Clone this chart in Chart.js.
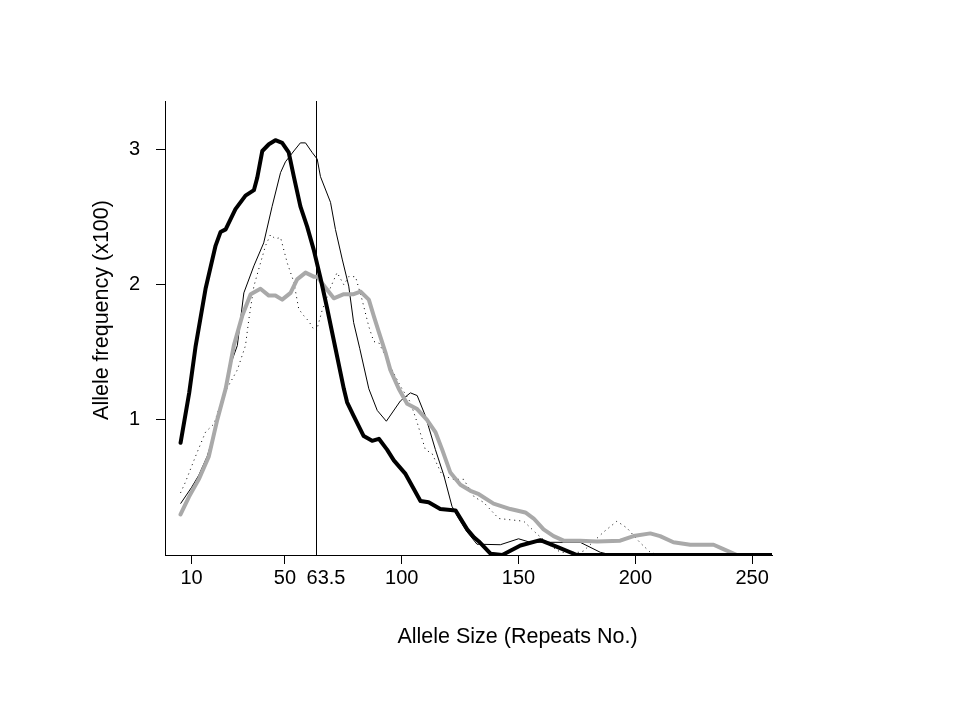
<!DOCTYPE html>
<html>
<head>
<meta charset="utf-8">
<script src="https://cdn.jsdelivr.net/npm/chart.js@4.4.1/dist/chart.umd.min.js"></script>
<style>
  html, body { margin: 0; padding: 0; background: #ffffff; }
  #wrap { width: 959px; height: 719px; position: relative; }
</style>
</head>
<body>
<div id="wrap"><canvas id="c" width="959" height="719"></canvas></div>
<script>
// ---- Data ----
const xTickValues = [10, 50, 63.5, 100, 150, 200, 250];
const yTickValues = [1, 2, 3];
const markerX = 63.5;

const xTitle = "Allele Size (Repeats No.)";
const yTitle = "Allele frequency (x100)";

// thick black series
const boldX = [5.3, 9, 11.7, 16, 20.3, 22.4, 24.6, 28.8, 33.1, 36.7, 38.1, 40.3, 43.1, 45.9, 48.8, 51.6, 53.8, 56.6, 59.5, 62.3, 65.2, 68, 71.6, 75.2, 76.6, 79.4, 83.7, 87.3, 90.2, 93.7, 96.6, 101.6, 105.1, 108, 111.5, 116.5, 123, 128, 131, 133, 138, 143, 150.8, 159.3, 166.5, 175, 258.5];
const boldY = [0.83, 1.2, 1.54, 1.97, 2.29, 2.39, 2.41, 2.56, 2.66, 2.70, 2.79, 2.99, 3.04, 3.07, 3.05, 2.98, 2.80, 2.58, 2.43, 2.26, 2.05, 1.83, 1.53, 1.23, 1.13, 1.03, 0.88, 0.845, 0.86, 0.78, 0.70, 0.60, 0.49, 0.40, 0.39, 0.34, 0.33, 0.19, 0.13, 0.10, 0.01, 0, 0.07, 0.11, 0.06, 0, 0];

// thin solid black series
const thinX = [5.3, 10, 13.1, 16.7, 20.3, 23.8, 26.5, 29.6, 32.4, 36.7, 40.9, 44.5, 48.1, 50.2, 53.8, 56.6, 58.8, 61.6, 63.8, 65.2, 69.5, 71.6, 74.5, 77.3, 79.4, 82, 85.9, 89.5, 93.4, 99.4, 103.7, 106.6, 110.1, 114.4, 118, 121.5, 124.4, 128, 132.2, 142.2, 150, 155, 176.4, 185, 190, 258.5];
const thinY = [0.38, 0.50, 0.59, 0.73, 0.93, 1.18, 1.40, 1.55, 1.94, 2.14, 2.31, 2.58, 2.83, 2.91, 2.99, 3.05, 3.05, 2.98, 2.93, 2.80, 2.61, 2.41, 2.19, 1.99, 1.72, 1.53, 1.23, 1.07, 0.99, 1.14, 1.20, 1.18, 1.03, 0.78, 0.59, 0.36, 0.27, 0.17, 0.08, 0.076, 0.12, 0.094, 0.094, 0.02, 0, 0];

// dotted black series
const dotX = [5.3, 7.4, 11.7, 16, 19.6, 23.8, 26.7, 29.6, 33.1, 34.5, 36.7, 39.5, 41.7, 43.8, 45.9, 48.1, 51, 53.8, 55.9, 58.1, 60.2, 62.3, 63.5, 65.9, 69.5, 72.3, 75.2, 77.3, 80.2, 83, 85.9, 88, 90.2, 95.9, 99.4, 103.7, 106.6, 110.1, 113, 117.3, 122.2, 126.5, 131, 135, 141.5, 152.2, 157.9, 163.6, 168, 176.4, 177.8, 186.4, 192.1, 196.4, 202.1, 206.4, 210, 258.5];
const dotY = [0.46, 0.54, 0.73, 0.91, 0.97, 1.19, 1.28, 1.37, 1.55, 1.74, 1.99, 2.16, 2.29, 2.37, 2.34, 2.35, 2.16, 2.02, 1.82, 1.77, 1.73, 1.67, 1.66, 1.81, 1.98, 2.09, 2.00, 2.06, 2.06, 1.89, 1.69, 1.58, 1.57, 1.37, 1.25, 1.13, 0.98, 0.78, 0.75, 0.59, 0.56, 0.56, 0.43, 0.39, 0.27, 0.25, 0.155, 0.07, 0.02, 0.02, 0.03, 0.17, 0.25, 0.20, 0.09, 0.02, 0, 0];

// thick grey series
const greyX = [5.3, 8.9, 13.1, 17.4, 21, 24.6, 26.7, 28.1, 31.7, 35.3, 39.5, 43.1, 45.9, 48.8, 52.4, 55.2, 58.8, 62.3, 63.8, 67.3, 70.9, 75.2, 79.4, 82.3, 85.9, 88, 90.2, 93, 95.1, 98.7, 102.3, 106.6, 110.8, 114.4, 117.3, 120.8, 125.1, 129.4, 133, 139.3, 146.5, 152.9, 156.5, 160.7, 165, 169.3, 176.4, 183.6, 193.5, 199.2, 206.4, 210.6, 216.3, 223.5, 233.5, 237.7, 243.5, 258.5];
const greyY = [0.30, 0.43, 0.56, 0.73, 1.00, 1.23, 1.42, 1.55, 1.77, 1.93, 1.97, 1.92, 1.92, 1.89, 1.94, 2.04, 2.09, 2.06, 2.06, 1.98, 1.90, 1.93, 1.93, 1.95, 1.89, 1.77, 1.65, 1.50, 1.37, 1.23, 1.12, 1.08, 1.00, 0.91, 0.78, 0.61, 0.52, 0.475, 0.45, 0.38, 0.34, 0.315, 0.27, 0.19, 0.14, 0.106, 0.106, 0.10, 0.106, 0.14, 0.16, 0.14, 0.094, 0.076, 0.076, 0.044, 0, 0];

const xMin = -1.36, xMax = 258.5;
const yMin = 0, yMax = 3.36;

function pts(xs, ys) { return xs.map((x, i) => ({ x: x, y: ys[i] })); }

const FONT = "'Liberation Sans', Arial, sans-serif";

const titlePlugin = {
  id: 'axisTitles',
  afterDraw(chart) {
    const ctx = chart.ctx;
    const xs = chart.scales.x;
    ctx.save();
    ctx.fillStyle = '#000';
    // marker tick label, set slightly to the right of its line as in the reference
    ctx.font = "20px " + FONT;
    ctx.textAlign = 'center';
    ctx.textBaseline = 'middle';
    ctx.fillText(String(markerX), xs.getPixelForValue(markerX) + 9.5, xs.top + 9 + 2 + 12);
    // axis titles
    ctx.font = "21.5px " + FONT;
    ctx.textBaseline = 'alphabetic';
    ctx.fillText(xTitle, 517.5, 643);
    ctx.translate(108, 310);
    ctx.rotate(-Math.PI / 2);
    ctx.fillText(yTitle, 0, 0);
    ctx.restore();
  }
};

new Chart(document.getElementById('c'), {
  type: 'line',
  data: {
    datasets: [
      { data: pts(boldX, boldY), borderColor: '#000000', borderWidth: 4, pointRadius: 0, tension: 0, borderJoinStyle: 'round', borderCapStyle: 'round' },
      { data: pts(greyX, greyY), borderColor: '#a9a9a9', borderWidth: 4, pointRadius: 0, tension: 0, borderJoinStyle: 'round', borderCapStyle: 'round' },
      { data: pts(thinX, thinY), borderColor: '#000000', borderWidth: 1, pointRadius: 0, tension: 0 },
      { data: pts(dotX, dotY), borderColor: '#000000', borderWidth: 1, borderDash: [1, 4], pointRadius: 0, tension: 0 },
      { data: [{ x: markerX, y: yMin }, { x: markerX, y: yMax }], borderColor: '#000000', borderWidth: 1, pointRadius: 0 }
    ]
  },
  options: {
    responsive: false,
    animation: false,
    devicePixelRatio: 1,
    layout: { padding: { left: 0, top: 101, right: 187, bottom: 0 } },
    plugins: { legend: { display: false }, tooltip: { enabled: false } },
    scales: {
      x: {
        type: 'linear',
        min: xMin, max: xMax,
        afterBuildTicks: (s) => { s.ticks = xTickValues.map(v => ({ value: v })); },
        afterFit: (s) => { s.height = 164; },
        border: { display: true, color: '#000', width: 1 },
        grid: {
          drawOnChartArea: false, drawTicks: true, tickLength: 9,
          tickColor: (c) => (c.tick && c.tick.value === markerX) ? 'rgba(0,0,0,0)' : '#000'
        },
        ticks: {
          color: '#000', font: { family: FONT, size: 20 }, padding: 2,
          maxRotation: 0, autoSkip: false,
          callback: (v) => (v === markerX ? '' : String(v))
        }
      },
      y: {
        type: 'linear',
        min: yMin, max: yMax,
        afterBuildTicks: (s) => { s.ticks = yTickValues.map(v => ({ value: v })); },
        afterFit: (s) => { s.width = 165; },
        border: { display: true, color: '#000', width: 1 },
        grid: { drawOnChartArea: false, drawTicks: true, tickLength: 9, tickColor: '#000' },
        ticks: {
          color: '#000', font: { family: FONT, size: 20 }, padding: 16,
          autoSkip: false,
          callback: (v) => String(v)
        }
      }
    }
  },
  plugins: [titlePlugin]
});
</script>
</body>
</html>
